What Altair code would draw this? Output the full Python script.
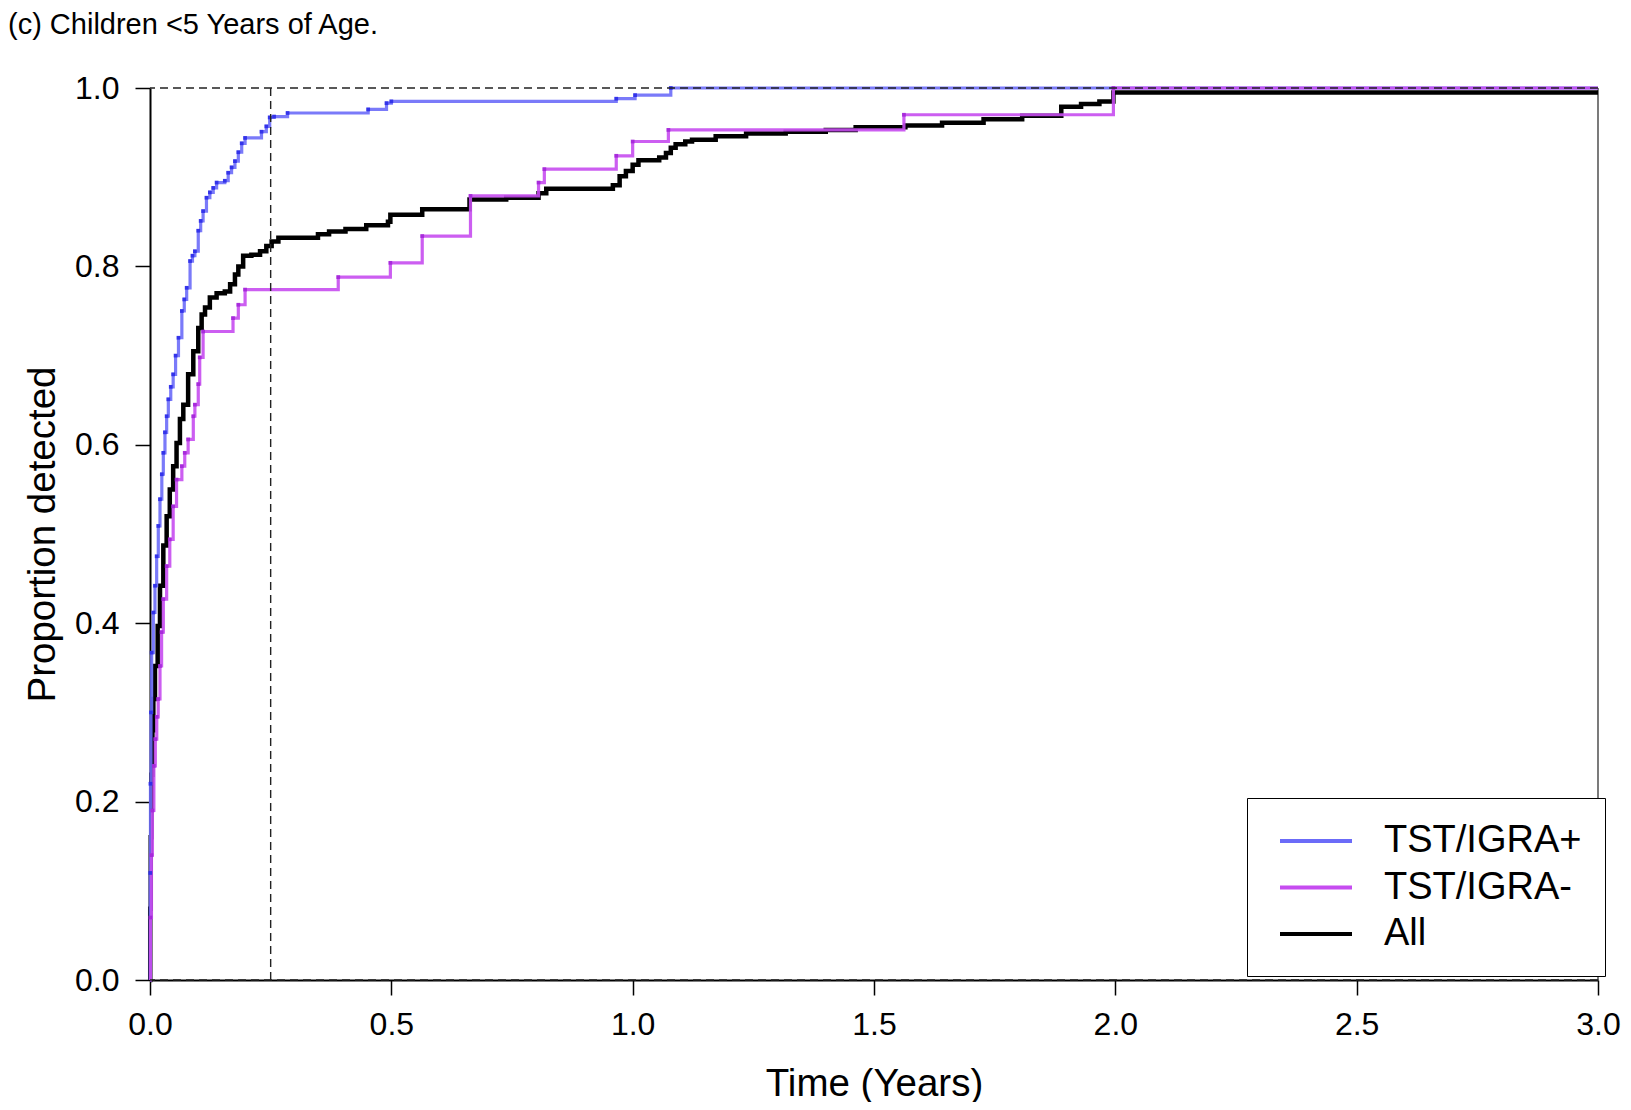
import altair as alt
import pandas as pd

# ---------------- data ----------------
groups = ["TST/IGRA+", "TST/IGRA-", "All"]
line_colors = ["#6b6bf8", "#c64cf0", "#000000"]
marker_colors = ["#2b2be8", "#a326d8"]

pos_t = [0.0, 0.0005, 0.001, 0.002, 0.0034, 0.0069, 0.0103, 0.0138, 0.0172, 0.0207,
         0.0245, 0.0276, 0.031, 0.0345, 0.038, 0.043, 0.048, 0.053, 0.059, 0.066,
         0.071, 0.076, 0.083, 0.088, 0.093, 0.100, 0.105, 0.110, 0.117, 0.124,
         0.131, 0.138, 0.155, 0.162, 0.169, 0.176, 0.183, 0.190, 0.197, 0.231,
         0.241, 0.248, 0.257, 0.285, 0.452, 0.490, 0.500, 0.966, 1.005, 1.079, 3.0]
pos_p = [0.0, 0.12, 0.22, 0.30, 0.367, 0.412, 0.442, 0.475, 0.509, 0.539,
         0.567, 0.591, 0.614, 0.632, 0.651, 0.665, 0.679, 0.700, 0.720, 0.750,
         0.763, 0.776, 0.806, 0.812, 0.817, 0.840, 0.851, 0.862, 0.877, 0.883,
         0.888, 0.894, 0.896, 0.905, 0.911, 0.918, 0.928, 0.938, 0.944, 0.951,
         0.957, 0.967, 0.968, 0.972, 0.976, 0.983, 0.985, 0.988, 0.992, 1.0, 1.0]

neg_t = [0.0, 0.001, 0.003, 0.005, 0.008, 0.011, 0.014, 0.017, 0.0207, 0.024,
         0.0276, 0.0345, 0.041, 0.048, 0.055, 0.066, 0.072, 0.079, 0.0897, 0.093,
         0.100, 0.103, 0.110, 0.172, 0.183, 0.197, 0.390, 0.498, 0.564, 0.664,
         0.805, 0.817, 0.966, 1.000, 1.074, 1.562, 1.996, 3.0]
neg_p = [0.0, 0.07, 0.14, 0.19, 0.24, 0.27, 0.295, 0.315, 0.352, 0.390,
         0.427, 0.464, 0.494, 0.531, 0.561, 0.576, 0.591, 0.606, 0.632, 0.645,
         0.668, 0.698, 0.727, 0.742, 0.757, 0.774, 0.788, 0.804, 0.834, 0.879,
         0.894, 0.909, 0.924, 0.940, 0.953, 0.970, 1.0, 1.0]

all_t = [0.0, 0.0005, 0.0015, 0.003, 0.005, 0.0069, 0.0103, 0.0159, 0.0207, 0.0276,
         0.0345, 0.041, 0.048, 0.055, 0.062, 0.069, 0.079, 0.0897, 0.100, 0.107,
         0.114, 0.124, 0.138, 0.155, 0.166, 0.176, 0.183, 0.193, 0.210, 0.228,
         0.241, 0.252, 0.266, 0.348, 0.371, 0.405, 0.448, 0.493, 0.498, 0.564,
         0.662, 0.738, 0.805, 0.821, 0.959, 0.973, 0.986, 1.000, 1.012, 1.055,
         1.069, 1.079, 1.089, 1.109, 1.123, 1.172, 1.235, 1.317, 1.400, 1.462,
         1.565, 1.641, 1.727, 1.807, 1.888, 1.929, 1.967, 1.996, 3.0]
all_p = [0.0, 0.08, 0.16, 0.23, 0.28, 0.315, 0.352, 0.397, 0.442, 0.487,
         0.520, 0.550, 0.576, 0.602, 0.629, 0.645, 0.679, 0.705, 0.731, 0.746,
         0.754, 0.765, 0.770, 0.772, 0.780, 0.791, 0.800, 0.812, 0.813, 0.817,
         0.823, 0.828, 0.832, 0.836, 0.839, 0.842, 0.846, 0.850, 0.858, 0.864,
         0.875, 0.877, 0.882, 0.887, 0.891, 0.901, 0.907, 0.914, 0.919, 0.922,
         0.927, 0.933, 0.937, 0.940, 0.942, 0.946, 0.949, 0.951, 0.953, 0.956,
         0.958, 0.961, 0.965, 0.969, 0.979, 0.982, 0.985, 0.995, 0.995]

x_ticks = [0.0, 0.5, 1.0, 1.5, 2.0, 2.5, 3.0]
y_ticks = [0.0, 0.2, 0.4, 0.6, 0.8, 1.0]
ref_h = [0.0, 1.0]      # dashed horizontal reference lines
ref_v = [0.25]          # dashed vertical line at 3 months
frame_right = [3.0]     # right frame line

assert len(pos_t) == len(pos_p) and len(neg_t) == len(neg_p) and len(all_t) == len(all_p)

FONT = "Liberation Sans"

rows = []
for g, ts, ps in [(groups[0], pos_t, pos_p), (groups[1], neg_t, neg_p), (groups[2], all_t, all_p)]:
    for t, p in zip(ts, ps):
        rows.append({"group": g, "t": t, "p": p})
df = pd.DataFrame(rows)

xscale = alt.Scale(domain=[0, 3], nice=False, zero=False)
yscale = alt.Scale(domain=[0, 1], nice=False, zero=False)
cscale = alt.Scale(domain=groups, range=line_colors)

x_enc = alt.X("t:Q", scale=xscale,
              axis=alt.Axis(values=x_ticks, format=".1f", title="Time (Years)"))
y_enc = alt.Y("p:Q", scale=yscale,
              axis=alt.Axis(values=y_ticks, format=".1f", title="Proportion detected"))
color_enc = alt.Color("group:N", scale=cscale, legend=alt.Legend(title=None))

base = alt.Chart(df)

def line_layer(g, width, opacity):
    return base.transform_filter(alt.datum.group == g).mark_line(
        interpolate="step-after", strokeWidth=width, opacity=opacity, strokeCap="butt"
    ).encode(x=x_enc, y=y_enc, color=color_enc)

def marker_layer(g, col):
    return base.transform_filter(
        (alt.datum.group == g) & (alt.datum.t > 0) & (alt.datum.t < 2.9)
    ).mark_square(size=14, color=col, opacity=0.9).encode(x=x_enc, y=y_enc)

right_line = alt.Chart(pd.DataFrame({"t": frame_right})).mark_rule(
    color="#222222", strokeWidth=1.2).encode(x=alt.X("t:Q", scale=xscale))

h_dash = alt.Chart(pd.DataFrame({"p": ref_h})).mark_rule(
    color="#222222", strokeWidth=1.4, strokeDash=[8, 5]).encode(y=alt.Y("p:Q", scale=yscale))
v_dash = alt.Chart(pd.DataFrame({"t": ref_v})).mark_rule(
    color="#222222", strokeWidth=1.4, strokeDash=[8, 5]).encode(x=alt.X("t:Q", scale=xscale))

chart = alt.layer(
    right_line,
    line_layer("All", 4.5, 1.0),
    line_layer("TST/IGRA+", 3.2, 0.9),
    line_layer("TST/IGRA-", 3.2, 0.9),
    marker_layer("TST/IGRA+", marker_colors[0]),
    marker_layer("TST/IGRA-", marker_colors[1]),
    h_dash,
    v_dash,
).properties(
    width=1448,
    height=892,
    autosize=alt.AutoSizeParams(type="none"),
    padding={"left": 142, "top": 80, "right": 25, "bottom": 122},
    title=alt.TitleParams(
        text="(c) Children <5 Years of Age.",
        anchor="start", frame="group", dx=-142, offset=32,
        font=FONT, fontSize=29, fontWeight="normal", color="black",
    ),
).configure_view(
    stroke=None
).configure_axis(
    labelFont=FONT, titleFont=FONT, labelFontSize=32, titleFontSize=38.5,
    labelColor="black", titleColor="black", titleFontWeight="normal",
    tickColor="black", domainColor="black", tickSize=15, tickWidth=1.5,
    domainWidth=2, grid=False, labelFlush=False,
).configure_axisX(
    labelPadding=14, titlePadding=25,
).configure_axisY(
    labelPadding=16, titlePadding=12, labelAngle=0,
).configure_legend(
    orient="none", legendX=1097, legendY=710,
    fillColor="white", strokeColor="black", padding=23,
    labelFont=FONT, labelFontSize=38, labelColor="black", labelLimit=500,
    symbolType="M-2,0H2", symbolStrokeWidth=4, symbolSize=1296, symbolOffset=26,
    labelOffset=48, rowPadding=7.5,
)

chart.save("out.html", embed_options={"renderer": "svg", "actions": False})
